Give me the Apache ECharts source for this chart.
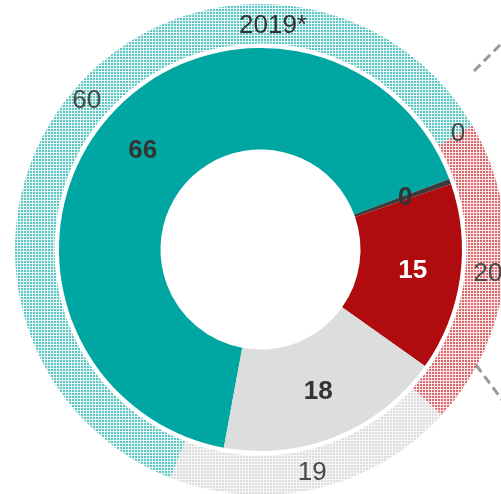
<!DOCTYPE html>
<html>
<head>
<meta charset="utf-8">
<script src="https://cdn.jsdelivr.net/npm/echarts@6/dist/echarts.min.js"></script>
<style>
  html, body { margin: 0; padding: 0; background: #fff; }
  #chart { width: 501px; height: 494px; }
</style>
</head>
<body>
<div id="chart"></div>
<script>
// data
var categories = ['A', 'B', 'C', 'D'];
var innerValues = [66, 0, 15, 18];
var outerValues = [60, 0, 20, 19];
var outerTitle = '2019*';

var solidColors = ['#00a6a1', '#3b3b3b', '#b00c0f', '#dcdddd'];
var dotColors = ['#00a6a1', '#3b3b3b', '#c4141a', '#d2d2d2'];

// small dotted tile for the outer ring
function dotTile(color, bgAlpha, dotAlpha) {
	var c = document.createElement('canvas');
	c.width = 3;
	c.height = 3;
	var ctx = c.getContext('2d');
	ctx.fillStyle = color;
	ctx.globalAlpha = bgAlpha;
	ctx.fillRect(0, 0, 3, 3);
	ctx.globalAlpha = dotAlpha;
	ctx.fillRect(0, 0, 2, 2);
	return c;
}

var myChart = echarts.init(document.getElementById('chart'));

var innerData = categories.map(function (name, i) {
	return {
		name: name,
		value: innerValues[i],
		itemStyle: { color: solidColors[i] },
		label: { color: i === 2 ? '#ffffff' : '#333333' }
	};
});

var outerData = categories.map(function (name, i) {
	return {
		name: name,
		value: outerValues[i],
		itemStyle: {
			color: {
				image: dotTile(dotColors[i], i === 3 ? 0.2 : 0.1, i === 3 ? 0.7 : 0.6),
				repeat: 'repeat'
			}
		}
	};
});

var option = {
	animation: false,
	title: {
		text: outerTitle,
		left: 234,
		top: 8,
		textStyle: {
			fontFamily: 'Liberation Sans, Arial, sans-serif',
			fontSize: 26,
			fontWeight: 'normal',
			color: '#333'
		}
	},
	series: [
		{
			name: 'outer',
			type: 'pie',
			center: [260.5, 249.5],
			radius: [206, 245.5],
			startAngle: -111.5,
			clockwise: true,
			avoidLabelOverlap: false,
			silent: true,
			label: {
				position: 'inside',
				formatter: '{c}',
				fontFamily: 'Liberation Sans, Arial, sans-serif',
				fontSize: 26,
				color: '#4a4a4a'
			},
			labelLine: { show: false },
			data: outerData
		},
		{
			name: 'inner',
			type: 'pie',
			center: [260.5, 249.5],
			radius: [100, 201.5],
			startAngle: -100.5,
			minAngle: 1.5,
			clockwise: true,
			avoidLabelOverlap: false,
			silent: true,
			label: {
				position: 'inside',
				formatter: '{c}',
				fontFamily: 'Liberation Sans, Arial, sans-serif',
				fontSize: 26,
				fontWeight: 'bold'
			},
			labelLine: { show: false },
			data: innerData
		}
	],
	graphic: [
		{
			type: 'line',
			shape: { x1: 474, y1: 71, x2: 512, y2: 33 },
			style: { stroke: '#9a9a9a', lineWidth: 3, lineDash: [9, 5] }
		},
		{
			type: 'line',
			shape: { x1: 476, y1: 365, x2: 512, y2: 413 },
			style: { stroke: '#9a9a9a', lineWidth: 3, lineDash: [9, 5] }
		}
	]
};

myChart.setOption(option);
</script>
</body>
</html>
